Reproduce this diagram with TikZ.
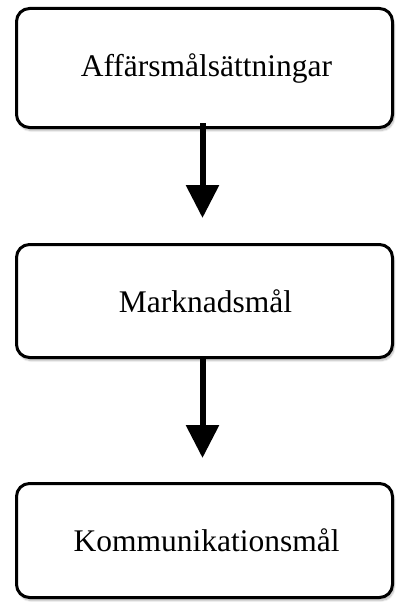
\documentclass[tikz,border=0pt]{standalone}
\usepackage{fontspec}
\setmainfont{Liberation Serif}
\usetikzlibrary{positioning,arrows.meta,shadows.blur}

\begin{document}
\begin{tikzpicture}[
  x=1pt, y=-1pt,
  font=\fontsize{31.5}{36}\selectfont,
  goal/.style={draw=black, line width=3pt, rounded corners=13pt, fill=white,
               minimum width=376pt, minimum height=114pt, inner sep=0pt,
               blur shadow={shadow xshift=1.5pt, shadow yshift=-3pt,
                            shadow blur steps=8, shadow opacity=30}},
  arr/.style={-{Triangle[length=33pt, width=32pt]}, line width=6pt}
]
\useasboundingbox (0,0) rectangle (398,602);
% ----- the three goal levels -----
\node[goal, minimum height=119pt] (biz)  at (204.5,68)    {};
\node[goal, minimum height=113pt] (mkt)  at (204.5,301)   {};
\node[goal]                       (comm) at (204.5,540.5) {};
% ----- labels -----
\node[inner sep=0pt] (bizl)  at ([xshift=2pt]biz)  {Affärsmålsättningar};
\node[inner sep=0pt] (mktl)  at ([xshift=1pt]mkt)  {Marknadsmål};
\node[inner sep=0pt] (comml) at ([xshift=2pt]comm) {Kommunikationsmål};
% ----- arrows -----
\draw[arr] ([xshift=-2pt, yshift=6pt]biz.south) -- ([xshift=-2pt, yshift=25pt]mkt.north);
\draw[arr] ([xshift=-2pt, yshift=1pt]mkt.south) -- ([xshift=-2pt, yshift=24pt]comm.north);
\end{tikzpicture}
\end{document}
